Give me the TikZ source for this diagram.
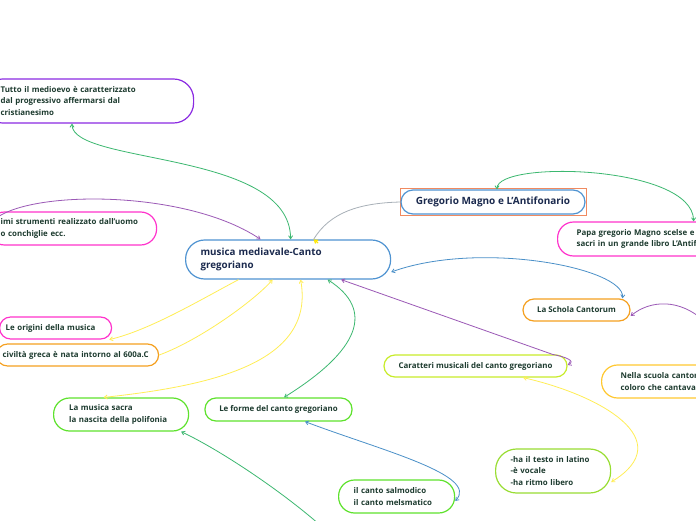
\documentclass[tikz,border=0pt]{standalone}
\usepackage{fontspec}
\setmainfont{Open Sans}
\usetikzlibrary{arrows.meta}
\definecolor{tdark}{HTML}{1D3B2F}
\definecolor{tnavy}{HTML}{1B2A4E}
\definecolor{cblue}{HTML}{4F93D1}
\definecolor{purpleB}{HTML}{8B2BE2}
\definecolor{pinkB}{HTML}{FF33CC}
\definecolor{orangeB}{HTML}{F5A020}
\definecolor{yellowB}{HTML}{FFC830}
\definecolor{ygreenB}{HTML}{C8EC2A}
\definecolor{greenB}{HTML}{5EE22D}
\definecolor{lgreenB}{HTML}{99DD33}
\definecolor{orect}{HTML}{F08A60}
\definecolor{lnblue}{HTML}{4A90C8}
\definecolor{lnpurple}{HTML}{9B59B6}
\definecolor{lngreen}{HTML}{3CB870}
\definecolor{lnyellow}{HTML}{FFEE55}
\definecolor{lngray}{HTML}{A8B0B8}
\tikzset{
  box/.style={draw, line width=1.2pt, fill=white, align=left, text=tdark,
    font=\fontsize{7.9}{11.5}\selectfont\bfseries, inner ysep=0pt},
  cbox/.style={box, align=center, inner xsep=0pt},
  conn/.style={line width=0.8pt, {Straight Barb[length=3pt,width=4pt]}-{Straight Barb[length=3pt,width=4pt]}},
  conn1/.style={line width=0.8pt, -{Straight Barb[length=3pt,width=4pt]}},
}
\begin{document}
\begin{tikzpicture}[x=1pt,y=-1pt]
\useasboundingbox (0,0) rectangle (696,520);
\fill[white] (0,0) rectangle (696,520);

% nodes
\node[box, draw=cblue, rounded corners=19pt, text=tnavy, font=\fontsize{9.8}{13}\selectfont\bfseries,
  text width=175pt, inner xsep=15pt, minimum height=39pt, anchor=west] (central) at (185,259.5)
  {musica mediavale-Canto\\gregoriano};
\node[box, draw=purpleB, rounded corners=20pt, text width=175pt, inner xsep=18pt,
  minimum height=44pt, anchor=west] (tutto) at (-18,101)
  {Tutto il medioevo è caratterizzato\\dal progressivo affermarsi dal\\cristianesimo};
\node[box, draw=pinkB, rounded corners=16pt, text width=144pt, inner xsep=12pt,
  minimum height=33pt, anchor=west] (strum) at (-12,228.5)
  {imi strumenti realizzato dall'uomo\\o conchiglie ecc.};
\draw[orect, line width=1pt] (400,188.5) rectangle (586,215.5);
\node[cbox, draw=cblue, rounded corners=12pt, text=tnavy, font=\fontsize{10}{11}\selectfont\bfseries,
  minimum width=184pt, minimum height=24pt] (greg) at (493,202)
  {Gregorio Magno e L'Antifonario};
\node[box, draw=pinkB, rounded corners=16pt, text width=200pt, inner xsep=19pt,
  minimum height=34pt, anchor=west] (papa) at (557,239)
  {Papa gregorio Magno scelse e\\sacri in un grande libro L'Antif};
\node[cbox, draw=orangeB, rounded corners=11pt, minimum width=107pt, minimum height=22pt] (schola)
  at (576.5,310) {La Schola Cantorum};
\node[box, draw=yellowB, rounded corners=16pt, text width=150pt, inner xsep=19pt,
  minimum height=33pt, anchor=west] (nella) at (601,381.5)
  {Nella scuola cantor\\coloro che cantavan};
\node[cbox, draw=ygreenB, rounded corners=11pt, minimum width=183pt, minimum height=22pt] (carat)
  at (475.5,366) {Caratteri musicali del canto gregoriano};
\node[box, draw=pinkB, rounded corners=11pt, text width=100pt, inner xsep=6pt,
  minimum height=22pt, anchor=west] (orig) at (-1,328) {Le origini della musica};
\node[box, draw=orangeB, rounded corners=11pt, text width=150pt, inner xsep=6pt,
  minimum height=22pt, anchor=west] (civ) at (-4,355) {civiltà greca è nata intorno al 600a.C};
\node[box, draw=greenB, rounded corners=16pt, text width=104pt, inner xsep=15.5pt,
  minimum height=33pt, anchor=west] (sacra) at (53,414.5)
  {La musica sacra\\la nascita della polifonia};
\node[cbox, draw=greenB, rounded corners=11pt, minimum width=147pt, minimum height=23pt] (forme)
  at (278.5,409.5) {Le forme del canto gregoriano};
\node[box, draw=lgreenB, rounded corners=21pt, text width=85pt, inner xsep=15pt,
  minimum height=44pt, anchor=west] (ha) at (495,471)
  {-ha il testo in latino\\-è vocale\\-ha ritmo libero};
\node[box, draw=greenB, rounded corners=16pt, text width=86pt, inner xsep=15pt,
  minimum height=33pt, anchor=west] (salm) at (338,496.5)
  {il canto salmodico\\il canto melsmatico};

\coordinate (offL) at (320,525);
\coordinate (offR) at (705,322);

% connectors
\draw[conn, lngreen] ([xshift=90pt]tutto.south west) .. controls (72,165) and (290,150) .. ([xshift=2.5pt]central.north);
\draw[conn1, lnpurple] (strum.west) .. controls (0,190) and (180,185) .. ([xshift=-27.5pt]central.north);
\draw[line width=0.8pt, lngray] (greg.west) .. controls (360,203) and (330,212) .. ([xshift=25.5pt]central.north);
\draw[line width=1.2pt, yellow!90!orange, -{Straight Barb[length=3pt,width=4pt]}] ([xshift=30pt,yshift=-3.5pt]central.north) -- ([xshift=25.5pt]central.north);
\draw[conn, lngreen] ([xshift=4pt]greg.north) .. controls (497,160) and (693,165) .. ([xshift=17pt]papa.north);
\draw[conn, lnblue] ([yshift=-12.5pt]central.east) .. controls (480,240) and (625,268) .. ([xshift=46pt]schola.north);
\draw[conn1, lnpurple] (offR) .. controls (680,298) and (650,300) .. ([yshift=-6pt]schola.east);
\draw[conn, lnpurple] ([xshift=53pt]central.south) -- ([xshift=-15pt]carat.north east) .. controls (566,357) and (576,361) .. ([yshift=1pt]carat.east);
\draw[conn, lnyellow] ([xshift=47.5pt]carat.south) .. controls (600,395) and (680,440) .. ([yshift=-11pt]ha.east);
\draw[conn1, lnyellow] ([xshift=-49.5pt]central.south) .. controls (200,300) and (150,330) .. ([xshift=-3pt]orig.south east);
\draw[conn1, lnyellow] (civ.east) .. controls (200,340) and (255,300) .. ([xshift=-15.5pt]central.south);
\draw[conn, lnyellow] ([xshift=12.5pt]central.south) .. controls (315,360) and (220,385) .. ([xshift=-17.5pt]sacra.north);
\draw[conn, lngreen] ([xshift=39.5pt]central.south) .. controls (375,310) and (360,350) .. ([xshift=5.5pt]forme.north);
\draw[conn, lnblue] ([xshift=26.5pt]forme.south) .. controls (380,450) and (480,475) .. ([yshift=-4.5pt]salm.east);
\draw[conn1, lngreen] (offL) .. controls (280,490) and (220,450) .. ([xshift=60pt]sacra.south);
\end{tikzpicture}
\end{document}
